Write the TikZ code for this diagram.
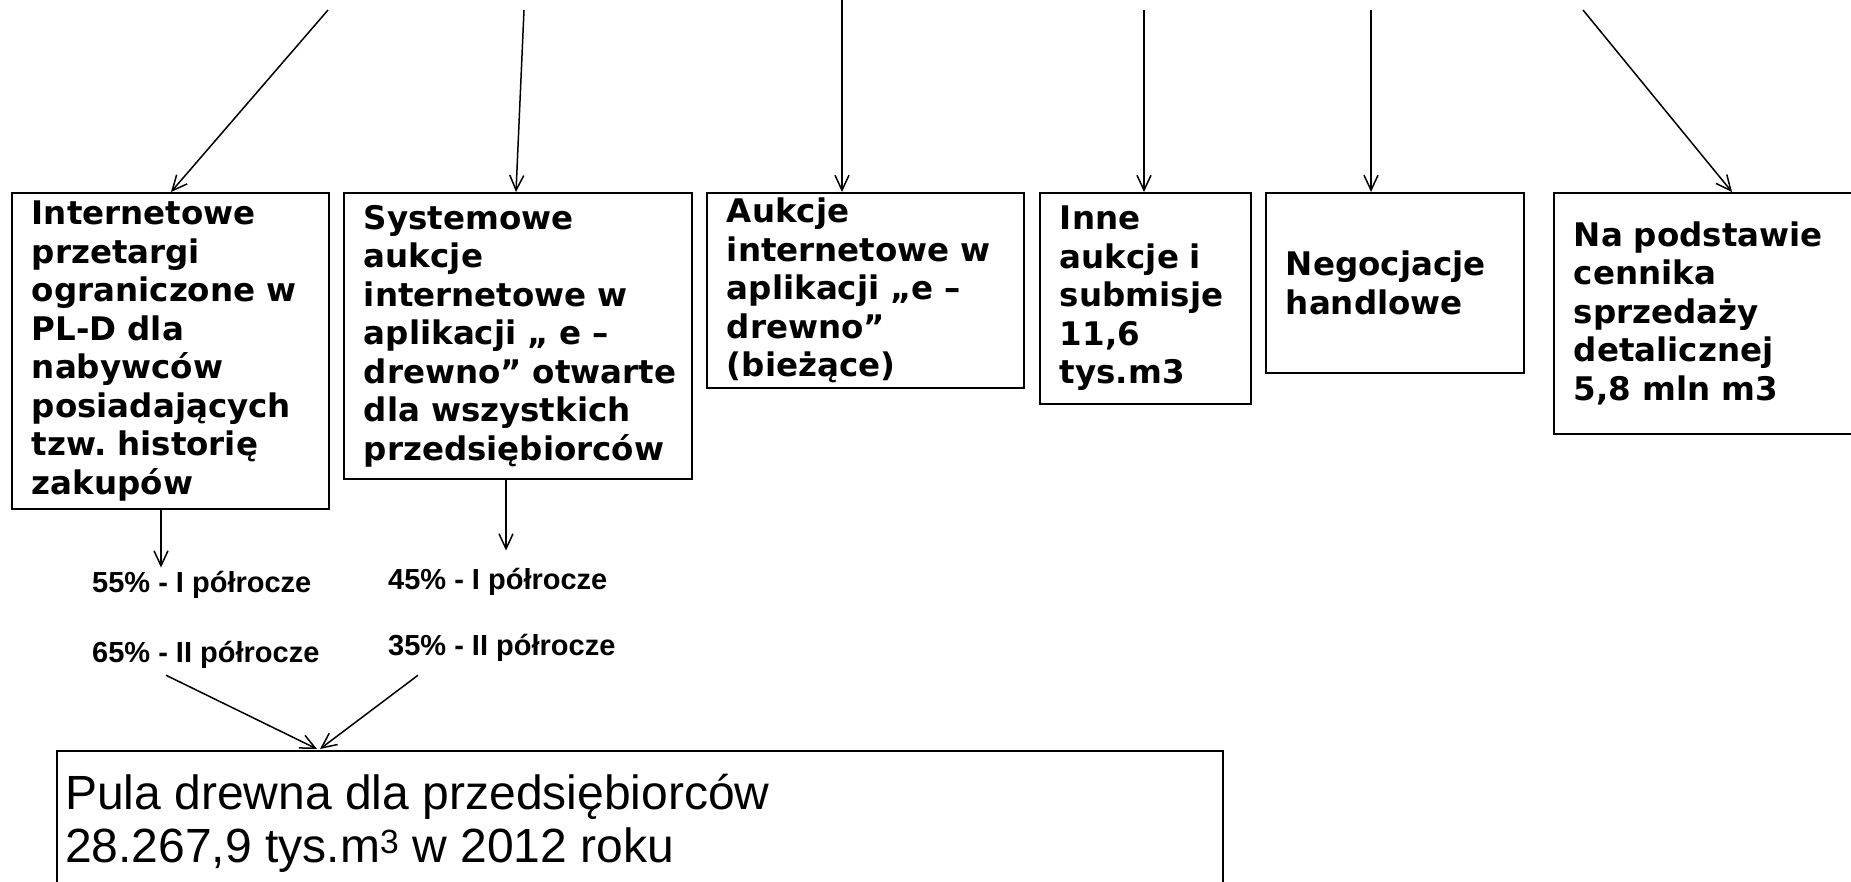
\documentclass[tikz,border=0pt]{standalone}
\usepackage{fontspec}
\setmainfont{DejaVu Sans}
\newfontfamily\arialf{Liberation Sans}
\usetikzlibrary{arrows.meta,calc}
\newcommand\boxfont{\bfseries\fontsize{32.5}{38.5}\selectfont\hyphenpenalty=10000 }
\newcommand\labfont{\arialf\bfseries\fontsize{29}{34}\selectfont}
\newcommand\pulafont{\arialf\fontsize{48}{53}\selectfont}
\tikzset{
  stepbox/.style={draw, line width=1.8pt, anchor=north west, align=left,
    inner xsep=20pt, inner ysep=0pt, font=\boxfont},
  lab/.style={anchor=base west, inner sep=0pt, font=\labfont},
  arr/.style={line width=1.5pt, -{Straight Barb[length=15pt,width=14pt,line width=1.5pt]}},
}
\begin{document}
\begin{tikzpicture}[x=1pt,y=-1pt]
\useasboundingbox (0,0) rectangle (1851,881);
\clip (0,0) rectangle (1851,881);
% boxes
\node[stepbox, text width=277pt, minimum height=316pt] (b1) at (11,192)
  {Internetowe\\przetargi\\ograniczone~w\\PL-D~dla\\nabywców\\posiadających\\tzw.~historię\\zakupów};
\node[stepbox, text width=308pt, minimum height=286pt] (b2) at (343,192)
  {Systemowe\\aukcje\\internetowe~w\\aplikacji~„~e~–\\drewno”~otwarte\\dla~wszystkich\\przedsiębiorców};
\node[stepbox, text width=277pt, minimum height=195pt] (b3) at (706,192)
  {Aukcje\\internetowe~w\\aplikacji~„e~–\\drewno”\\(bieżące)};
\node[stepbox, text width=171pt, minimum height=211pt] (b4) at (1039,192)
  {Inne\\aukcje~i\\submisje\\11,6\\tys.m3};
\node[stepbox, text width=218pt, minimum height=180pt] (b5) at (1265,192)
  {Negocjacje\\handlowe};
\node[stepbox, text width=307pt, minimum height=241pt] (b6) at (1553,192)
  {Na~podstawie\\cennika\\sprzedaży\\detalicznej\\5,8~mln~m3};
% top free ends
\coordinate (t1) at (328,10);
\coordinate (t2) at (524,10);
\coordinate (t3) at (842,0);
\coordinate (t4) at (1144,10);
\coordinate (t5) at (1371,10);
\coordinate (t6) at (1583,10);
\draw[arr] (t1) -- ($(b1.north west)+(160,0)$);
\draw[arr] (t2) -- ($(b2.north west)+(173,0)$);
\draw[arr] (t3) -- ($(b3.north west)+(136,0)$);
\draw[arr] (t4) -- ($(b4.north west)+(105,0)$);
\draw[arr] (t5) -- ($(b5.north west)+(106,0)$);
\draw[arr] (t6) -- ($(b6.north west)+(179,0)$);
% labels
\node[lab] (l55) at (92,592) {55\% - I półrocze};
\node[lab] (l65) at (92,662) {65\% - II półrocze};
\node[lab] (l45) at (388,589) {45\% - I półrocze};
\node[lab] (l35) at (388,655) {35\% - II półrocze};
% bottom box
\node[draw, line width=1.8pt, anchor=north west, minimum width=1166pt, minimum height=220pt, inner sep=0pt] (pula) at (56,750) {};
\node[anchor=north west, align=left, inner sep=0pt, font=\pulafont] (pulatext) at (65,774)
  {Pula drewna dla przedsiębiorców\\28.267,9 tys.m\textsuperscript{3} w 2012 roku};
% arrows down
\draw[arr] ($(b1.south west)+(150,0)$) -- ($(l55.north west)+(69,-3)$);
\draw[arr] ($(b2.south west)+(163,0)$) -- ($(l45.north west)+(118,-17)$);
\draw[arr] ($(l65.south west)+(74,7)$) -- ($(pula.north west)+(261,-1)$);
\draw[arr] ($(l35.south west)+(30,14)$) -- ($(pula.north west)+(264,-1)$);
\end{tikzpicture}
\end{document}
